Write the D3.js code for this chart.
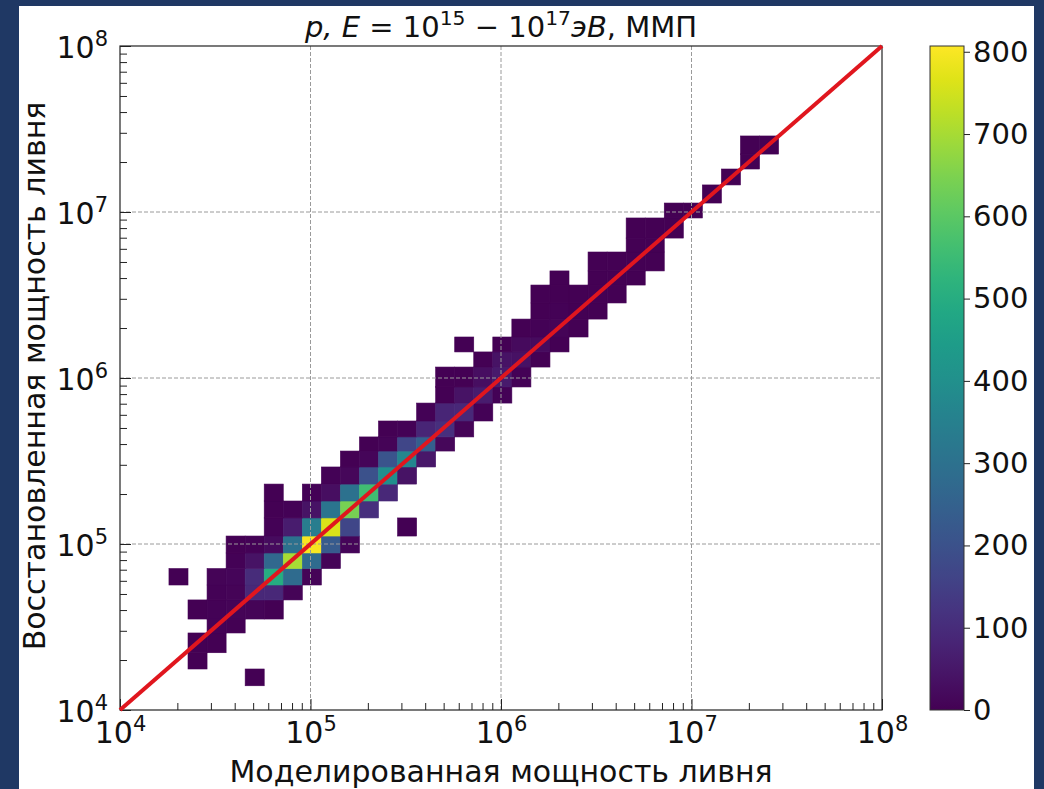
<!DOCTYPE html>
<html lang="ru">
<head>
<meta charset="UTF-8">
<title>Мощность ливня</title>
<script src="https://d3js.org/d3.v7.min.js"></script>
<style>
    html, body { margin: 0; padding: 0; background: #1f3864; overflow: hidden; }
    svg { display: block; }
    svg text { font-family: "DejaVu Sans", sans-serif; }
    .domain { stroke: #222; }
    .tick line { stroke: #222; }
</style>
</head>
<body>
<div id="graph"></div>
<script>
// log10 of the bin edges
const xEdgeExp = [4.257, 4.357, 4.457, 4.557, 4.657, 4.757, 4.857, 4.957, 5.057, 5.157, 5.257,
    5.357, 5.457, 5.557, 5.657, 5.757, 5.857, 5.957, 6.057, 6.157, 6.257, 6.357, 6.457,
    6.557, 6.657, 6.757, 6.857, 6.957, 7.057, 7.157, 7.257, 7.357, 7.457];
const yEdgeExp = [4.146, 4.247, 4.345, 4.464, 4.548, 4.663, 4.753, 4.852, 4.946, 5.048, 5.157,
    5.259, 5.361, 5.464, 5.560, 5.645, 5.741, 5.849, 5.946, 6.066, 6.157, 6.247, 6.355,
    6.452, 6.560, 6.645, 6.759, 6.843, 6.964, 7.054, 7.163, 7.259, 7.349, 7.458];

// first filled column of each row, bottom row first
const rowStart = [4, 1, 1, 2, 1, 2, 0, 3, 3, 5, 5, 5, 8, 9, 10, 11, 13, 14, 14, 16, 15,
    18, 19, 19, 20, 22, 24, 24, 26, 28, 29, 30, 30];
// counts per row, null = empty bin
const rowCounts = [
    [1],
    [2],
    [2, 3],
    [5, 3],
    [3, 5, 8, 8, 3],
    [5, 8, 90, 90, 8],
    [1, null, 8, 12, 100, 500, 280, 8],
    [5, 40, 270, 700, 280, 8],
    [3, 5, 25, 300, 800, 230, 10],
    [5, 60, 340, 760, 170, null, null, 1],
    [2, 5, 40, 310, 640, 110],
    [1, null, 5, 30, 300, 560, 90],
    [5, 15, 200, 400, 40],
    [3, 10, 210, 370, 50],
    [3, 8, 170, 240, 15],
    [3, 5, 85, 110, 8],
    [5, 85, 90, 5],
    [3, 40, 60, 4],
    [1, 2, 30, 55, 5],
    [3, 40, 35, 3],
    [1, null, 3, 20, 25, 3],
    [2, 5, 8, 2],
    [2, 4, 3, 2],
    [1, 2, 2, 3, 2],
    [1, null, 1, 2, 1],
    [1, 1, 1, 1],
    [1, 1],
    [1, 1, 1],
    [1, 1],
    [1],
    [1],
    [1],
    [1, 1]
];

const axisExp = [4, 5, 6, 7, 8];
const minorMult = [2, 3, 4, 5, 6, 7, 8, 9];
const colorTicks = [0, 100, 200, 300, 400, 500, 600, 700, 800];
const colorMax = 807;
const xLabel = "Моделированная мощность ливня";
const yLabel = "Восстановленная мощность ливня";

const width = 1044, height = 789;
const left = 120, right = 882, top_ = 46, bottom = 710;
const barLeft = 930, barRight = 964;
const fontSize = 29;

const svg = d3.select("#graph").append("svg").attr("width", width).attr("height", height);

// white page on the dark slide
svg.append("rect").attr("x", 19).attr("y", 6).attr("width", 1015).attr("height", 783).attr("fill", "#fff");

const x = d3.scaleLog().domain([1e4, 1e8]).range([left, right]);
const y = d3.scaleLog().domain([1e4, 1e8]).range([bottom, top_]);
const color = d3.scaleSequential(d3.interpolateViridis).domain([0, colorMax]);

const cells = [];
rowCounts.forEach((counts, r) => {
    counts.forEach((c, i) => {
        if (c !== null) cells.push({ col: rowStart[r] + i, row: r, count: c });
    });
});

// thin stroke in the cell colour closes the seams between bins
svg.append("g").selectAll("rect").data(cells).join("rect")
    .attr("x", d => x(10 ** xEdgeExp[d.col]))
    .attr("width", d => x(10 ** xEdgeExp[d.col + 1]) - x(10 ** xEdgeExp[d.col]))
    .attr("y", d => y(10 ** yEdgeExp[d.row + 1]))
    .attr("height", d => y(10 ** yEdgeExp[d.row]) - y(10 ** yEdgeExp[d.row + 1]))
    .attr("fill", d => color(d.count))
    .attr("stroke", d => color(d.count))
    .attr("stroke-width", 0.6);

// grid
const gridVals = axisExp.slice(1, -1).map(e => 10 ** e);
const grid = svg.append("g").attr("stroke", "#9a9a9a").attr("stroke-width", 1).attr("stroke-dasharray", "4,2");
grid.selectAll(".gx").data(gridVals).join("line").attr("class", "gx")
    .attr("x1", d => x(d)).attr("x2", d => x(d)).attr("y1", top_).attr("y2", bottom);
grid.selectAll(".gy").data(gridVals).join("line").attr("class", "gy")
    .attr("y1", d => y(d)).attr("y2", d => y(d)).attr("x1", left).attr("x2", right);

// axis frame
svg.append("rect").attr("x", left).attr("y", top_).attr("width", right - left).attr("height", bottom - top_)
    .attr("fill", "none").attr("stroke", "#222").attr("stroke-width", 1.2);

// minor + major ticks point inward
const minorVals = axisExp.slice(0, -1).flatMap(e => minorMult.map(m => m * 10 ** e));
const majorVals = axisExp.map(e => 10 ** e);

const gx = svg.append("g").attr("transform", `translate(0,${bottom})`);
gx.call(d3.axisBottom(x).tickValues(minorVals).tickSize(-7).tickFormat(""));
const gxMajor = svg.append("g").attr("transform", `translate(0,${bottom})`);
gxMajor.call(d3.axisBottom(x).tickValues(majorVals).tickSize(-11).tickPadding(20));

const gy = svg.append("g").attr("transform", `translate(${left},0)`);
gy.call(d3.axisLeft(y).tickValues(minorVals).tickSize(-7).tickFormat(""));
const gyMajor = svg.append("g").attr("transform", `translate(${left},0)`);
gyMajor.call(d3.axisLeft(y).tickValues(majorVals).tickSize(-11).tickPadding(12));

function powerLabels(sel) {
    sel.selectAll(".tick text").each(function (d) {
        const t = d3.select(this).text("").attr("font-size", fontSize + 1).attr("fill", "#111");
        t.append("tspan").text("10");
        t.append("tspan").attr("dy", -12).attr("font-size", (fontSize + 1) * 0.7).text(Math.round(Math.log10(d)));
    });
}
powerLabels(gxMajor);
powerLabels(gyMajor);
gxMajor.selectAll(".tick text").attr("dy", null).attr("y", 33);
gyMajor.selectAll(".tick text").attr("dy", null).attr("x", -12).attr("y", 11);
gx.select(".domain").remove(); gxMajor.select(".domain").remove();
gy.select(".domain").remove(); gyMajor.select(".domain").remove();

// one to one line
svg.append("line")
    .attr("x1", x(1e4)).attr("y1", y(1e4)).attr("x2", x(1e8)).attr("y2", y(1e8))
    .attr("stroke", "#e0161e").attr("stroke-width", 4);

// colorbar
const cb = d3.scaleLinear().domain([0, colorMax]).range([bottom, top_]);
const defs = svg.append("defs");
const grad = defs.append("linearGradient").attr("id", "viridis")
    .attr("x1", 0).attr("y1", 1).attr("x2", 0).attr("y2", 0);
d3.range(0, 1.001, 0.05).forEach(t => {
    grad.append("stop").attr("offset", t).attr("stop-color", d3.interpolateViridis(t));
});
svg.append("rect").attr("x", barLeft).attr("y", top_).attr("width", barRight - barLeft).attr("height", bottom - top_)
    .attr("fill", "url(#viridis)").attr("stroke", "#333").attr("stroke-width", 1);
const gc = svg.append("g").attr("transform", `translate(${barRight},0)`);
gc.call(d3.axisRight(cb).tickValues(colorTicks).tickSize(6).tickPadding(3).tickFormat(d3.format("d")));
gc.select(".domain").remove();
gc.selectAll(".tick text").attr("font-size", fontSize).attr("fill", "#111");

// labels
svg.append("text").attr("x", 501).attr("y", 782).attr("text-anchor", "middle")
    .attr("font-size", 30).attr("fill", "#111").text(xLabel);
svg.append("text").attr("transform", "translate(45,376) rotate(-90)").attr("text-anchor", "middle")
    .attr("font-size", 30).attr("fill", "#111").text(yLabel);

const title = svg.append("text").attr("x", 501).attr("y", 37).attr("text-anchor", "middle")
    .attr("font-size", fontSize).attr("fill", "#111");
title.append("tspan").attr("font-style", "italic").text("p, E");
title.append("tspan").text(" = 10");
title.append("tspan").attr("dy", -12).attr("font-size", fontSize * 0.7).text("15");
title.append("tspan").attr("dy", 12).text(" − 10");
title.append("tspan").attr("dy", -12).attr("font-size", fontSize * 0.7).text("17");
title.append("tspan").attr("dy", 12).attr("font-style", "italic").text("эB");
title.append("tspan").text(", ММП");
</script>
</body>
</html>
